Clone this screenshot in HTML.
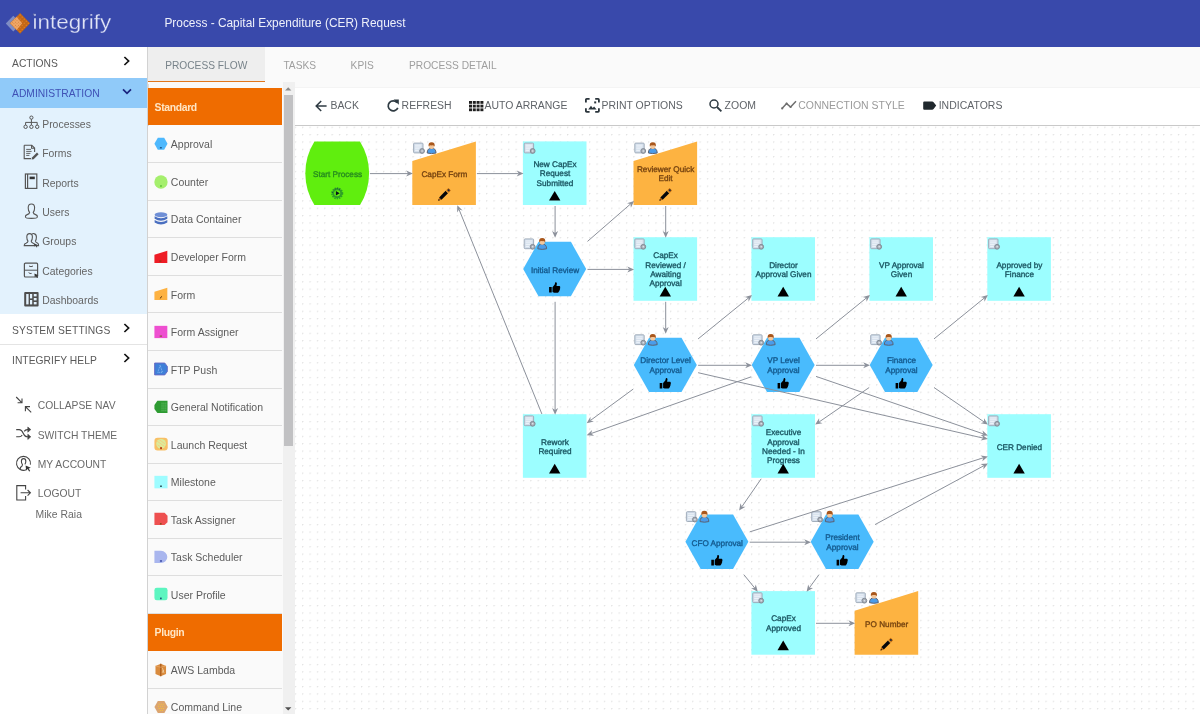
<!DOCTYPE html>
<html><head><meta charset="utf-8"><title>Process - Capital Expenditure (CER) Request</title>
<style>
*{box-sizing:border-box;margin:0;padding:0}
html,body{width:1200px;height:714px;overflow:hidden;background:#fafafa;font-family:"Liberation Sans",sans-serif}
#root{position:relative;width:1200px;height:714px;overflow:hidden;transform:translateZ(0);will-change:transform}
.a{position:absolute}
.t{position:absolute;white-space:nowrap;font-size:10.3px;line-height:12px;color:#616161}
#hdr{left:0;top:0;width:1200px;height:47px;background:#3949ab}
#nav{left:0;top:47px;width:147.5px;height:667px;background:#fff;border-right:1px solid #d2d2d2}
#adm{left:0;top:78px;width:147px;height:29.5px;background:#90caf9}
#sub{left:0;top:107.5px;width:147px;height:206.5px;background:#e3f2fd}
.sep{position:absolute;left:0;width:147px;height:1px;background:#e4e4e4}
.navt{color:#5a5a5a;letter-spacing:.02px}
#tabact{left:148px;top:47px;width:117px;height:35px;background:#eeeeee;border-bottom:1.9px solid #e2771c}
.tab{color:#9e9e9e;font-size:10.2px}
#pal{left:147.5px;top:84px;width:136px;height:630px;background:#fafafa;border-left:1px solid #dcdcdc}
.ph{position:absolute;left:148px;width:134px;height:36.9px;background:#ef6c00}
.pht{color:#ffe6c4;font-weight:bold;font-size:10.4px;letter-spacing:-.35px}
.pr{position:absolute;left:148px;width:134.2px;height:37.53px;border-bottom:1px solid #dedede;background:#fafafa}
.pit{font-size:10.5px;color:#5c5c5c}
.pi{position:absolute;left:154.3px}
#sb{left:282.6px;top:82px;width:12px;height:632px;background:#f0f0f0}
#sbt{left:284.1px;top:95px;width:8.8px;height:351.2px;background:#c1c1c3}
#tb{left:294.6px;top:86.8px;width:906px;height:39px;background:#fff;border-bottom:1.8px solid #c9c9c9;border-top:1px solid #f4f4f4}
#cv{left:294.6px;top:125.8px;width:906px;height:589px;background-color:#fff;
 background-image:radial-gradient(circle at 0.6px 0.6px,#e0e0e0 0.58px,rgba(255,255,255,0) 0.95px);
 background-size:7.372px 7.372px;background-position:-0.25px 0.7px}
.tbt{color:#5f6368;font-size:10.45px;letter-spacing:.03px}
.nl{font-family:"Liberation Sans",sans-serif;font-size:8.2px;text-anchor:middle;stroke-width:.34px;text-rendering:geometricPrecision}
svg{position:absolute;overflow:visible}
</style></head><body><div id="root">
<svg width="0" height="0" style="left:0;top:0"><defs>
<g id="pencil"><polygon points="0.3,12.3 1.22,8.98 3.62,11.38" fill="#b9640f"/><polygon points="0.3,12.3 0.75,10.6 2.0,11.85" fill="#0a0c10"/><polygon points="1.22,8.98 7.73,2.47 10.13,4.87 3.62,11.38" fill="#05070b"/><polygon points="7.73,2.47 8.57,1.63 10.97,4.03 10.13,4.87" fill="#d08a30"/><polygon points="8.57,1.63 10.5,-0.3 12.9,2.1 10.97,4.03" fill="#b9640f"/><circle cx="10.7" cy="1.9" r="1" fill="#1f2a3a"/></g>
<g id="thumb"><path d="M0,5 h2.6 v5.6 h-2.6 z M3.4,5.2 L5.6,2.6 L6.2,0.3 Q7.6,-0.1 7.8,1.4 L7.4,3.9 H10.4 Q11.4,4.2 11,5.2 Q11.5,6 10.8,6.7 Q11.2,7.6 10.4,8.2 Q10.6,9.1 9.8,9.6 Q9.7,10.6 8.6,10.7 H5 L3.4,10 Z" fill="#000"/></g>
<g id="play"><circle cx="6.5" cy="6.5" r="5.3" fill="none" stroke="#2f9f28" stroke-width="1.5" stroke-dasharray="1.5 0.9"/><circle cx="6.5" cy="6.5" r="4" fill="none" stroke="#2f9f28" stroke-width="1.9"/><path d="M5.2,4.3 L9,6.5 L5.2,8.7 Z" fill="#06141c"/><circle cx="1.7" cy="5.6" r="0.5" fill="#173f4a"/><circle cx="4.5" cy="2.3" r="0.5" fill="#173f4a"/><circle cx="6.5" cy="1.6" r="0.5" fill="#173f4a"/><circle cx="8.6" cy="2.4" r="0.5" fill="#173f4a"/></g>
<g id="doc"><rect x="0.5" y="0.7" width="9.4" height="9.8" rx="0.9" fill="#d3deeb" stroke="#9ba7b6" stroke-width="0.9"/><path d="M2,2.8 H8.2 M2,4.6 H8.2 M2,6.4 H6.4 M2,8.2 H5.6" stroke="#f1f5fa" stroke-width="0.9"/><circle cx="9" cy="8.6" r="2.4" fill="#a9b0ba" stroke="#7d838d" stroke-width="0.9"/><circle cx="9" cy="8.6" r="0.8" fill="#e4e8ee"/></g>
<g id="person"><path d="M0.5,11 Q0.5,6.2 4.9,6.2 Q9.3,6.2 9.3,11 Q4.9,12.2 0.5,11 Z" fill="#4a9cea" stroke="#5a6273" stroke-width="1"/><circle cx="4.9" cy="4.3" r="2.6" fill="#f3c79c"/><path d="M1.9,4.6 Q1.2,0.2 4.9,0.2 Q8.6,0.2 7.9,4.6 Q6.8,3 4.9,3.4 Q3,3 1.9,4.6 Z" fill="#a9571c"/></g>
<!-- palette icons (14x14 viewbox) -->
<g id="pi1"><polygon points="0.4,6.4 3.6,0.8 9.6,0.8 12.8,6.4 9.6,12 3.6,12" fill="#4db8fd"/><rect x="5.6" y="9.6" width="1.8" height="1.2" fill="#1d4a78"/></g>
<g id="pi2"><circle cx="6.6" cy="6.6" r="6.3" fill="#a5ef6d"/><rect x="5.8" y="9.8" width="1.6" height="1.2" fill="#45b52a"/></g>
<g id="pi3"><ellipse cx="6.6" cy="2.6" rx="6" ry="2.3" fill="#6f8fd6"/><path d="M0.6,4 Q6.6,7.6 12.6,4 V6.4 Q6.6,10 0.6,6.4 Z M0.6,7.6 Q6.6,11.2 12.6,7.6 V10 Q6.6,13.6 0.6,10 Z" fill="#4a6fc0"/></g>
<g id="pi4"><polygon points="0.4,4.4 12.6,0.8 12.6,12.4 0.4,12.4" fill="#ee1c25"/><rect x="5" y="10" width="2" height="1" fill="#8a3a10"/></g>
<g id="pi5"><polygon points="0.4,4.6 12.6,0.8 12.6,12.4 0.4,12.4" fill="#fdb242"/><path d="M5.6,10.8 l2,-2" stroke="#4a2a08" stroke-width="0.9"/></g>
<g id="pi6"><rect x="0.4" y="0.8" width="12.2" height="11.6" fill="#ee4fd0"/><rect x="5.4" y="10" width="2.2" height="1" fill="#7a5a20"/></g>
<g id="pi7"><polygon points="0.6,1 10.2,1 12.6,4.2 12.6,9 10.2,12.2 0.6,12.2" fill="#3f80d8" stroke="#6668c4" stroke-width="0.9"/><path d="M5.8,3 L3.6,9.8 H8 L5.8,3" fill="none" stroke="#8fc0f2" stroke-width="0.8" stroke-dasharray="1 0.7"/></g>
<g id="pi8"><polygon points="3.2,0.8 12.8,0.8 12.8,12.4 3.2,12.4 0.4,8.4 0.4,4.8" fill="#2e9b32"/><path d="M7.6,2.6 V10.8 M9.4,2.6 V10.8 M11.2,2.6 V10.8" stroke="#86d48a" stroke-width="0.8" stroke-dasharray="0.8 1"/></g>
<g id="pi9"><rect x="0.4" y="0.8" width="12.6" height="12" rx="3" fill="#f8c066"/><circle cx="6.7" cy="6.4" r="4.6" fill="#d9ec9c"/><path d="M3,4 l7,5 M3.4,7.4 l5.2,3.4 M5,2.6 l5.4,3.8" stroke="#f5cd7e" stroke-width="0.9"/><rect x="5.8" y="9.6" width="1.7" height="1.9" fill="#b23c12"/></g>
<g id="pi10"><rect x="0.4" y="0.8" width="12.4" height="11.8" fill="#9efcff"/><rect x="5.8" y="10" width="1.6" height="1.2" fill="#102a30"/></g>
<g id="pi11"><path d="M0.4,0.8 H10 L12.8,3.6 V9.6 L10,12.4 H0.4 Z" fill="#ee5050"/><rect x="5.6" y="10.6" width="1.6" height="1.2" fill="#7a4a10"/></g>
<g id="pi12"><path d="M0.4,0.8 H6.6 A6,5.8 0 0 1 6.6,12.4 H0.4 Z" fill="#a9b6ee"/><rect x="5.6" y="9.8" width="2" height="1.2" fill="#2a3a9a"/></g>
<g id="pi13"><rect x="0.4" y="0.8" width="12.4" height="11.8" rx="2.2" fill="#5cf5c0"/><rect x="5.8" y="10" width="1.4" height="1.6" fill="#16406e"/></g>
<g id="pi15"><path d="M1.4,2.8 L6.4,0.6 L11.4,2.8 V10.4 L6.4,12.6 L1.4,10.4 Z" fill="#d98b3e"/><path d="M6.4,0.6 V12.6" stroke="#a85a1a" stroke-width="1.1"/><path d="M1.4,2.8 L6.4,4 L11.4,2.8" fill="none" stroke="#eab074" stroke-width="0.6"/><path d="M8,4.8 l1.4,4.6 M9,6.6 l-1.2,2.6" stroke="#f6d6a8" stroke-width="0.7"/></g>
<g id="pi16"><polygon points="0.4,6.6 3.6,0.9 9.8,0.9 13,6.6 9.8,12.3 3.6,12.3" fill="#dba470"/><path d="M4.4,4 h5 M3.6,6 h6.4 M4.4,8 h5 M5.4,10 h3" stroke="#f7c338" stroke-width="1" stroke-dasharray="1 1"/></g>
</defs></svg>

<div class="a" id="hdr"></div>
<!-- logo -->
<svg style="left:0;top:0" width="150" height="47" viewBox="0 0 150 47">
 <defs>
  <pattern id="lgd" width="2.9" height="2.9" patternUnits="userSpaceOnUse" patternTransform="translate(20.1,13) rotate(45)"><rect x="0.9" y="0.9" width="1.1" height="1.1" fill="#f2831f"/></pattern>
  <pattern id="lgp" width="2.2" height="2.2" patternUnits="userSpaceOnUse" patternTransform="translate(20.1,13) rotate(45)"><rect x="0.5" y="0.5" width="1.0" height="1.0" fill="#cf7a30"/></pattern>
 </defs>
 <polygon points="5.8,23.5 13.3,15.8 20.8,23.5 13.3,31.6" fill="#8493c6" opacity=".92"/>
 <polygon points="9.9,23.3 20.1,12.9 30.1,23.3 20.1,33.7" fill="#bf6617"/>
 <polygon points="9.9,23.3 20.1,12.9 30.1,23.3 20.1,33.7" fill="url(#lgd)"/>
 <polygon points="10.2,23.3 16.6,16.8 22.2,23.3 16.6,30" fill="#f0a767"/>
 <polygon points="10.2,23.3 16.6,16.8 22.2,23.3 16.6,30" fill="url(#lgp)" opacity=".75"/>
 <polygon points="33,13.8 35.8,13.8 34.4,16.4" fill="#8f93a0"/>
 <text transform="translate(32.6,28.5) scale(1.095,1)" x="0" y="0" font-family="Liberation Sans, sans-serif" font-size="20.5" fill="#e1e5f6" stroke="#3949ab" stroke-width="0.25" letter-spacing="0">integrify</text>
</svg>
<div class="t" style="left:164.4px;top:15.6px;font-size:11.9px;line-height:14px;color:#eef0fa">Process - Capital Expenditure (CER) Request</div>

<div class="a" id="nav"></div>
<div class="a" id="adm"></div>
<div class="a" id="sub"></div>
<div class="sep" style="top:344px"></div>
<div class="t navt" style="left:12px;top:57.6px;">ACTIONS</div>
<div class="t navt" style="left:12px;top:88.1px;color:#3f51b5">ADMINISTRATION</div>
<div class="t navt" style="left:42.2px;top:118.6px;font-size:10.4px;color:#646464">Processes</div>
<svg style="left:22.6px;top:115.0px" width="17" height="17" viewBox="0 0 17 17"><use href="#ni0"/></svg>
<div class="t navt" style="left:42.2px;top:148.1px;font-size:10.4px;color:#646464">Forms</div>
<svg style="left:22.6px;top:143.7px" width="17" height="17" viewBox="0 0 17 17"><use href="#ni1"/></svg>
<div class="t navt" style="left:42.2px;top:177.5px;font-size:10.4px;color:#646464">Reports</div>
<svg style="left:22.6px;top:173.1px" width="17" height="17" viewBox="0 0 17 17"><use href="#ni2"/></svg>
<div class="t navt" style="left:42.2px;top:207.0px;font-size:10.4px;color:#646464">Users</div>
<svg style="left:22.6px;top:202.6px" width="17" height="17" viewBox="0 0 17 17"><use href="#ni3"/></svg>
<div class="t navt" style="left:42.2px;top:236.4px;font-size:10.4px;color:#646464">Groups</div>
<svg style="left:22.6px;top:232.0px" width="17" height="17" viewBox="0 0 17 17"><use href="#ni4"/></svg>
<div class="t navt" style="left:42.2px;top:265.9px;font-size:10.4px;color:#646464">Categories</div>
<svg style="left:22.6px;top:261.5px" width="17" height="17" viewBox="0 0 17 17"><use href="#ni5"/></svg>
<div class="t navt" style="left:42.2px;top:295.4px;font-size:10.4px;color:#646464">Dashboards</div>
<svg style="left:22.6px;top:291.0px" width="17" height="17" viewBox="0 0 17 17"><use href="#ni6"/></svg>
<div class="t navt" style="left:12px;top:324.6px;letter-spacing:.12px">SYSTEM SETTINGS</div>
<div class="t navt" style="left:12px;top:354.8px;">INTEGRIFY HELP</div>
<div class="t navt" style="left:37.7px;top:400.1px;color:#6a6a6a">COLLAPSE NAV</div>
<svg style="left:15px;top:395.7px" width="18" height="18" viewBox="0 0 18 18"><use href="#bi0"/></svg>
<div class="t navt" style="left:37.7px;top:429.8px;color:#6a6a6a">SWITCH THEME</div>
<svg style="left:15px;top:425.4px" width="18" height="18" viewBox="0 0 18 18"><use href="#bi1"/></svg>
<div class="t navt" style="left:37.7px;top:459.2px;color:#6a6a6a">MY ACCOUNT</div>
<svg style="left:15px;top:454.8px" width="18" height="18" viewBox="0 0 18 18"><use href="#bi2"/></svg>
<div class="t navt" style="left:37.7px;top:488.3px;color:#6a6a6a">LOGOUT</div>
<svg style="left:15px;top:483.9px" width="18" height="18" viewBox="0 0 18 18"><use href="#bi3"/></svg>
<div class="t navt" style="left:35.6px;top:509.4px;color:#6a6a6a;font-size:10.4px">Mike Raia</div>
<svg style="left:123.4px;top:56.2px" width="8" height="10" viewBox="0 0 8 10"><path d="M1.4,1 L5.6,5 L1.4,9" fill="none" stroke="#111" stroke-width="1.7"/></svg>
<svg style="left:121.8px;top:88.0px" width="10" height="8" viewBox="0 0 10 8"><path d="M1,1.4 L5,5.4 L9,1.4" fill="none" stroke="#1a237e" stroke-width="1.7"/></svg>
<svg style="left:123.4px;top:323.4px" width="8" height="10" viewBox="0 0 8 10"><path d="M1.4,1 L5.6,5 L1.4,9" fill="none" stroke="#111" stroke-width="1.7"/></svg>
<svg style="left:123.4px;top:353.2px" width="8" height="10" viewBox="0 0 8 10"><path d="M1.4,1 L5.6,5 L1.4,9" fill="none" stroke="#111" stroke-width="1.7"/></svg>
<svg width="0" height="0" style="left:0;top:0"><defs>
<g id="ni0" fill="none" stroke="#555" stroke-width="1"><circle cx="8.4" cy="2.6" r="1.6"/><path d="M8.4,4.2 V7.4 M2.6,10 V7.4 H14.2 V10 M8.4,7.4 V10"/><circle cx="2.6" cy="11.8" r="1.7"/><circle cx="8.4" cy="11.8" r="1.7"/><circle cx="14.2" cy="11.8" r="1.7"/></g>
<g id="ni1" fill="none" stroke="#555" stroke-width="1.1"><path d="M1.2,1.2 H8.8 L11.6,4 V8 M8,14.6 H1.2 V1.2 M8.6,1.4 V4.2 H11.4"/><path d="M3.2,5.4 H8 M3.2,7.4 H8.6 M3.2,9.4 H7.4 M3.2,11.4 H6.4" stroke-width=".9"/><path d="M9,13.6 L14,8.6 L15.6,10.2 L10.6,15.2 L8.6,15.6 Z" fill="#555" stroke="none"/></g>
<g id="ni2" fill="none" stroke="#555" stroke-width="1.2"><rect x="2.4" y="1" width="11.4" height="14.4"/><path d="M4.6,1 V15.4"/><rect x="6.6" y="3.6" width="5.2" height="2.6" fill="#333" stroke="none"/></g>
<g id="ni3" fill="none" stroke="#555" stroke-width="1.1"><path d="M8.4,1 Q11.6,1 11.6,4.8 Q11.6,8 10.2,9.4 Q10.4,11 12.6,11.6 Q14.6,12.2 14.4,14 Q14.2,15.4 8.4,15.4 Q2.6,15.4 2.4,14 Q2.2,12.2 4.2,11.6 Q6.4,11 6.6,9.4 Q5.2,8 5.2,4.8 Q5.2,1 8.4,1 Z"/></g>
<g id="ni4" fill="none" stroke="#555" stroke-width="1.1"><path d="M6.6,1.6 Q9.4,1.6 9.4,5 Q9.4,7.8 8.2,9.2 Q8.4,10.6 10.2,11.2 Q12,11.8 11.8,13.6 H1.2 Q1,11.8 3,11.2 Q4.8,10.6 5,9.2 Q3.8,7.8 3.8,5 Q3.8,1.6 6.6,1.6 Z"/><path d="M9,2 Q10,1.4 11,1.6 Q13.4,2 13.4,5 Q13.4,7.8 12.4,9 Q12.6,10.4 14.4,11 Q15.8,11.6 15.6,13.6 H12.6"/><path d="M11.4,11.4 l3.4,1.6 l-1.4,0.4 l1,1.6 l-0.8,0.4 l-1,-1.6 l-1,1 Z" fill="#444" stroke="none"/></g>
<g id="ni5" fill="none" stroke="#555" stroke-width="1.2"><rect x="1.4" y="1.2" width="13.2" height="13.8" rx="1"/><path d="M1.4,8.2 H14.6 M6,4 Q8,5.4 10,4 M5.6,10.6 Q7,12 8.6,11.4" stroke-width="1"/><path d="M11.4,11.4 l4,1.8 l-1.6,0.5 l1.2,1.8 l-0.9,0.5 l-1.1,-1.8 l-1.2,1.1 Z" fill="#333" stroke="none"/></g>
<g id="ni6"><rect x="1.2" y="1" width="14.4" height="14.4" rx="1" fill="#4e4e4e"/><rect x="3.2" y="3" width="2.4" height="10.4" fill="#e3f2fd"/><rect x="7" y="3" width="2.2" height="4.4" fill="#e3f2fd"/><rect x="7" y="9" width="2.2" height="4.4" fill="#e3f2fd"/><rect x="10.8" y="3" width="2.8" height="2.4" fill="#e3f2fd"/><rect x="10.8" y="7" width="2.8" height="2.4" fill="#e3f2fd"/><rect x="10.8" y="11" width="2.8" height="2.4" fill="#e3f2fd"/></g>
<g id="bi0" fill="none" stroke="#444" stroke-width="1.1"><path d="M1.2,1 L6.8,6.6 M2.6,6.8 H7 V2.4 M16.2,16.4 L10.6,10.8 M15,10.6 H10.4 V15.2"/></g>
<g id="bi1" fill="none" stroke="#444" stroke-width="1.1"><path d="M1.2,4.6 H4.2 Q6.6,4.6 8.2,8.2 Q9.8,11.8 12.2,11.8 H13.4 M1.2,11.8 H4.2 Q6.2,11.8 7.2,10 M9.2,6.4 Q10.4,4.6 12.2,4.6 H13.4"/><path d="M12.8,2 L15.8,4.6 L12.8,7.2 Z M12.8,9.2 L15.8,11.8 L12.8,14.4 Z" fill="#444" stroke-width=".6"/></g>
<g id="bi2" fill="none" stroke="#444" stroke-width="1.1"><path d="M11.2,14.8 A7,7 0 1 1 15.4,9.6"/><path d="M8.6,3.6 Q10.8,3.6 10.8,6.2 Q10.8,8.4 9.8,9.4 M5.2,14.4 Q5,12.4 6.4,11.6 Q7.4,11.2 7.4,9.4 Q6.4,8.4 6.4,6.2 Q6.4,3.6 8.6,3.6"/><path d="M10.6,10.6 l5.2,2.2 l-2.1,0.7 l1.5,2.4 l-1.1,0.6 l-1.4,-2.4 l-1.6,1.4 Z" fill="#333" stroke="none"/></g>
<g id="bi3" fill="none" stroke="#444" stroke-width="1.1"><path d="M10.6,5.6 V1.6 H1.8 V16 H10.6 V12"/><path d="M5.6,8.8 H15.4 M12.6,6 L15.4,8.8 L12.6,11.6"/></g>
<!-- toolbar icons -->
<g id="tb0" fill="none" stroke="#2f3b43" stroke-width="1.5"><path d="M11.6,6 H1.4 M6.2,1 L1.2,6 L6.2,11"/></g>
<g id="tb1" fill="none" stroke="#2f3b43" stroke-width="1.7"><path d="M10.6,3.2 A5,5 0 1 0 11.4,8.4"/><path d="M7.2,0.2 H12.4 V5.4 Z" fill="#2f3b43" stroke="none"/></g>
<g id="tb2" fill="#1f1f1f"><rect x="0" y="0" width="3" height="2.8"/><rect x="3.8" y="0" width="3" height="2.8"/><rect x="7.6" y="0" width="3" height="2.8"/><rect x="11.4" y="0" width="3" height="2.8"/><rect x="0" y="3.7" width="3" height="2.8"/><rect x="3.8" y="3.7" width="3" height="2.8"/><rect x="7.6" y="3.7" width="3" height="2.8"/><rect x="11.4" y="3.7" width="3" height="2.8"/><rect x="0" y="7.4" width="3" height="2.8"/><rect x="3.8" y="7.4" width="3" height="2.8"/><rect x="7.6" y="7.4" width="3" height="2.8"/><rect x="11.4" y="7.4" width="3" height="2.8"/></g>
<g id="tb3" fill="none" stroke="#2a343b" stroke-width="1.8"><path d="M0.9,4.6 V1.7 Q0.9,0.9 1.7,0.9 H4.6 M10.2,0.9 H13.1 Q13.9,0.9 13.9,1.7 V4.6 M13.9,10.2 V13.1 Q13.9,13.9 13.1,13.9 H10.2 M4.6,13.9 H1.7 Q0.9,13.9 0.9,13.1 V10.2"/><path d="M3.2,11.6 L6,7.8 L7.7,9.9 L9.1,8.6 L11.6,11.6 Z" fill="#2a343b" stroke="none"/><rect x="9.2" y="3.4" width="2" height="2" fill="#2a343b" stroke="none"/></g>
<g id="tb4" fill="none" stroke="#2f3b43" stroke-width="1.5"><circle cx="5" cy="5" r="4"/><path d="M8,8 L12.4,12.4" stroke-width="1.8"/></g>
<g id="tb5" fill="none" stroke="#6e6e6e" stroke-width="1.5"><path d="M1,9.4 L5.6,4.6 L9.6,8 L15,2.2"/><circle cx="1.2" cy="9.4" r="1.1" fill="#6e6e6e" stroke="none"/><circle cx="5.6" cy="4.6" r="1.1" fill="#6e6e6e" stroke="none"/><circle cx="9.6" cy="8" r="1.1" fill="#6e6e6e" stroke="none"/></g>
<g id="tb6"><path d="M1.2,0.4 H9.2 Q10,0.4 10.6,1.2 L13.2,4.6 L10.6,8 Q10,8.8 9.2,8.8 H1.2 Q0.2,8.8 0.2,7.8 V1.4 Q0.2,0.4 1.2,0.4 Z" fill="#20282d"/></g>
</defs></svg>

<!-- tabs -->
<div class="a" id="tabact"></div>
<div class="t tab" style="left:165.2px;top:60px;color:#78838a">PROCESS FLOW</div>
<div class="t tab" style="left:283.4px;top:60px">TASKS</div>
<div class="t tab" style="left:350.6px;top:60px">KPIS</div>
<div class="t tab" style="left:409px;top:60px">PROCESS DETAIL</div>

<!-- palette -->
<div class="a" id="pal"></div>
<div class="ph" style="top:88.20px"></div>
<div class="t pht" style="left:154.6px;top:101.80px">Standard</div>
<div class="pr" style="top:125.83px"></div>
<div class="t pit" style="left:170.8px;top:138.43px">Approval</div>
<svg class="pi" style="top:137.13px" width="14.8" height="14.8" viewBox="0 0 14 14"><use href="#pi1"/></svg>
<div class="pr" style="top:163.36px"></div>
<div class="t pit" style="left:170.8px;top:175.96px">Counter</div>
<svg class="pi" style="top:174.66px" width="14.8" height="14.8" viewBox="0 0 14 14"><use href="#pi2"/></svg>
<div class="pr" style="top:200.89px"></div>
<div class="t pit" style="left:170.8px;top:213.49px">Data Container</div>
<svg class="pi" style="top:212.19px" width="14.8" height="14.8" viewBox="0 0 14 14"><use href="#pi3"/></svg>
<div class="pr" style="top:238.42px"></div>
<div class="t pit" style="left:170.8px;top:251.02px">Developer Form</div>
<svg class="pi" style="top:249.72px" width="14.8" height="14.8" viewBox="0 0 14 14"><use href="#pi4"/></svg>
<div class="pr" style="top:275.95px"></div>
<div class="t pit" style="left:170.8px;top:288.55px">Form</div>
<svg class="pi" style="top:287.25px" width="14.8" height="14.8" viewBox="0 0 14 14"><use href="#pi5"/></svg>
<div class="pr" style="top:313.48px"></div>
<div class="t pit" style="left:170.8px;top:326.08px">Form Assigner</div>
<svg class="pi" style="top:324.78px" width="14.8" height="14.8" viewBox="0 0 14 14"><use href="#pi6"/></svg>
<div class="pr" style="top:351.01px"></div>
<div class="t pit" style="left:170.8px;top:363.61px">FTP Push</div>
<svg class="pi" style="top:362.31px" width="14.8" height="14.8" viewBox="0 0 14 14"><use href="#pi7"/></svg>
<div class="pr" style="top:388.54px"></div>
<div class="t pit" style="left:170.8px;top:401.14px">General Notification</div>
<svg class="pi" style="top:399.84px" width="14.8" height="14.8" viewBox="0 0 14 14"><use href="#pi8"/></svg>
<div class="pr" style="top:426.07px"></div>
<div class="t pit" style="left:170.8px;top:438.67px">Launch Request</div>
<svg class="pi" style="top:437.37px" width="14.8" height="14.8" viewBox="0 0 14 14"><use href="#pi9"/></svg>
<div class="pr" style="top:463.60px"></div>
<div class="t pit" style="left:170.8px;top:476.20px">Milestone</div>
<svg class="pi" style="top:474.90px" width="14.8" height="14.8" viewBox="0 0 14 14"><use href="#pi10"/></svg>
<div class="pr" style="top:501.13px"></div>
<div class="t pit" style="left:170.8px;top:513.73px">Task Assigner</div>
<svg class="pi" style="top:512.43px" width="14.8" height="14.8" viewBox="0 0 14 14"><use href="#pi11"/></svg>
<div class="pr" style="top:538.66px"></div>
<div class="t pit" style="left:170.8px;top:551.26px">Task Scheduler</div>
<svg class="pi" style="top:549.96px" width="14.8" height="14.8" viewBox="0 0 14 14"><use href="#pi12"/></svg>
<div class="pr" style="top:576.19px"></div>
<div class="t pit" style="left:170.8px;top:588.79px">User Profile</div>
<svg class="pi" style="top:587.49px" width="14.8" height="14.8" viewBox="0 0 14 14"><use href="#pi13"/></svg>
<div class="ph" style="top:613.62px"></div>
<div class="t pht" style="left:154.6px;top:627.22px">Plugin</div>
<div class="pr" style="top:651.25px"></div>
<div class="t pit" style="left:170.8px;top:663.85px">AWS Lambda</div>
<svg class="pi" style="top:662.55px" width="14.8" height="14.8" viewBox="0 0 14 14"><use href="#pi15"/></svg>
<div class="pr" style="top:688.78px"></div>
<div class="t pit" style="left:170.8px;top:701.38px">Command Line</div>
<svg class="pi" style="top:700.08px" width="14.8" height="14.8" viewBox="0 0 14 14"><use href="#pi16"/></svg>
<div class="a" id="sb"></div>
<div class="a" id="sbt"></div>
<svg style="left:285.4px;top:87.4px" width="7" height="4" viewBox="0 0 7 4"><path d="M0,3.6 L3.2,0.2 L6.4,3.6 Z" fill="#8a8a8a"/></svg>
<svg style="left:285.4px;top:706.6px" width="7" height="4" viewBox="0 0 7 4"><path d="M0,0.2 L3.2,3.6 L6.4,0.2 Z" fill="#505050"/></svg>

<!-- toolbar -->
<div class="a" id="tb"></div>
<svg style="left:315.4px;top:100px" width="13" height="12" viewBox="0 0 13 12"><use href="#tb0"/></svg>
<div class="t tbt" style="left:330.4px;top:100.4px">BACK</div>
<svg style="left:386.2px;top:98.0px" width="13" height="14" viewBox="0 0 13 14"><use href="#tb1" transform="translate(0.4,1.4)"/></svg>
<div class="t tbt" style="left:401.6px;top:100.4px">REFRESH</div>
<svg style="left:469px;top:100.6px" width="15" height="11" viewBox="0 0 15 11"><use href="#tb2"/></svg>
<div class="t tbt" style="left:484.4px;top:100.4px">AUTO ARRANGE</div>
<svg style="left:585px;top:98.4px" width="15" height="15" viewBox="0 0 15 15"><use href="#tb3"/></svg>
<div class="t tbt" style="left:601.4px;top:100.4px">PRINT OPTIONS</div>
<svg style="left:709px;top:99px" width="14" height="14" viewBox="0 0 14 14"><use href="#tb4"/></svg>
<div class="t tbt" style="left:724.6px;top:100.4px">ZOOM</div>
<svg style="left:781px;top:99.4px" width="17" height="12" viewBox="0 0 17 12"><use href="#tb5"/></svg>
<div class="t tbt" style="left:798.2px;top:100.4px;color:#9a9a9a">CONNECTION STYLE</div>
<svg style="left:922.8px;top:100.8px" width="14" height="10" viewBox="0 0 14 10"><use href="#tb6"/></svg>
<div class="t tbt" style="left:938.7px;top:100.4px">INDICATORS</div>

<!-- canvas -->
<div class="a" id="cv"></div>
<svg style="left:0;top:0" width="1200" height="714" viewBox="0 0 1200 714">
<path d="M314.4,141.4 L360.0,141.4 A60.3,60.3 0 0 1 360.0,205.0 L314.4,205.0 A60.3,60.3 0 0 1 314.4,141.4 Z" fill="#60ee0e"/>
<polygon points="412.3,161.1 475.9,141.4 475.9,205.0 412.3,205.0" fill="#fdb341"/>
<rect x="522.9" y="141.4" width="63.6" height="63.6" fill="#9cfeff"/>
<polygon points="633.5,161.1 697.1,141.4 697.1,205.0 633.5,205.0" fill="#fdb341"/>
<polygon points="523.2,269.0 538.5,241.8 570.9,241.8 586.2,269.0 570.9,296.2 538.5,296.2" fill="#49bbfd"/>
<rect x="633.5" y="237.2" width="63.6" height="63.6" fill="#9cfeff"/>
<rect x="751.4" y="237.2" width="63.6" height="63.6" fill="#9cfeff"/>
<rect x="869.4" y="237.2" width="63.6" height="63.6" fill="#9cfeff"/>
<rect x="987.3" y="237.2" width="63.6" height="63.6" fill="#9cfeff"/>
<polygon points="633.8,364.9 649.1,337.7 681.5,337.7 696.8,364.9 681.5,392.1 649.1,392.1" fill="#49bbfd"/>
<polygon points="751.7,364.9 767.0,337.7 799.4,337.7 814.7,364.9 799.4,392.1 767.0,392.1" fill="#49bbfd"/>
<polygon points="869.7,364.9 885.0,337.7 917.4,337.7 932.7,364.9 917.4,392.1 885.0,392.1" fill="#49bbfd"/>
<rect x="522.9" y="414.2" width="63.6" height="63.6" fill="#9cfeff"/>
<rect x="751.4" y="414.2" width="63.6" height="63.6" fill="#9cfeff"/>
<rect x="987.3" y="414.2" width="63.6" height="63.6" fill="#9cfeff"/>
<polygon points="685.4,541.8 700.7,514.6 733.1,514.6 748.4,541.8 733.1,569.0 700.7,569.0" fill="#49bbfd"/>
<polygon points="810.7,541.8 826.0,514.6 858.4,514.6 873.7,541.8 858.4,569.0 826.0,569.0" fill="#49bbfd"/>
<rect x="751.4" y="591.1" width="63.6" height="63.6" fill="#9cfeff"/>
<polygon points="854.6,610.8 918.2,591.1 918.2,654.7 854.6,654.7" fill="#fdb341"/>
<g transform="translate(330.7,186.8)"><use href="#play"/></g>
<g transform="translate(437.9,188.4)"><use href="#pencil"/></g>
<g transform="translate(413.1,142.4)"><use href="#doc"/></g>
<g transform="translate(426.7,142.0)"><use href="#person"/></g>
<polygon points="549.0,200.6 560.4,200.6 554.7,190.9" fill="#000"/>
<g transform="translate(523.7,142.4)"><use href="#doc"/></g>
<g transform="translate(659.1,188.4)"><use href="#pencil"/></g>
<g transform="translate(634.3,142.4)"><use href="#doc"/></g>
<g transform="translate(647.9,142.0)"><use href="#person"/></g>
<g transform="translate(549.1,282.0)"><use href="#thumb"/></g>
<g transform="translate(523.7,238.2)"><use href="#doc"/></g>
<g transform="translate(537.3,237.8)"><use href="#person"/></g>
<polygon points="659.6,296.4 671.0,296.4 665.3,286.7" fill="#000"/>
<g transform="translate(634.3,238.2)"><use href="#doc"/></g>
<polygon points="777.5,296.4 788.9,296.4 783.2,286.7" fill="#000"/>
<g transform="translate(752.2,238.2)"><use href="#doc"/></g>
<polygon points="895.5,296.4 906.9,296.4 901.2,286.7" fill="#000"/>
<g transform="translate(870.2,238.2)"><use href="#doc"/></g>
<polygon points="1013.4,296.4 1024.8,296.4 1019.1,286.7" fill="#000"/>
<g transform="translate(988.1,238.2)"><use href="#doc"/></g>
<g transform="translate(659.7,377.9)"><use href="#thumb"/></g>
<g transform="translate(634.3,334.1)"><use href="#doc"/></g>
<g transform="translate(647.9,333.7)"><use href="#person"/></g>
<g transform="translate(777.6,377.9)"><use href="#thumb"/></g>
<g transform="translate(752.2,334.1)"><use href="#doc"/></g>
<g transform="translate(765.8,333.7)"><use href="#person"/></g>
<g transform="translate(895.6,377.9)"><use href="#thumb"/></g>
<g transform="translate(870.2,334.1)"><use href="#doc"/></g>
<g transform="translate(883.8,333.7)"><use href="#person"/></g>
<polygon points="549.0,473.4 560.4,473.4 554.7,463.7" fill="#000"/>
<g transform="translate(523.7,415.2)"><use href="#doc"/></g>
<polygon points="777.5,473.4 788.9,473.4 783.2,463.7" fill="#000"/>
<g transform="translate(752.2,415.2)"><use href="#doc"/></g>
<polygon points="1013.4,473.4 1024.8,473.4 1019.1,463.7" fill="#000"/>
<g transform="translate(988.1,415.2)"><use href="#doc"/></g>
<g transform="translate(711.3,554.8)"><use href="#thumb"/></g>
<g transform="translate(685.9,511.0)"><use href="#doc"/></g>
<g transform="translate(699.5,510.6)"><use href="#person"/></g>
<g transform="translate(836.6,554.8)"><use href="#thumb"/></g>
<g transform="translate(811.2,511.0)"><use href="#doc"/></g>
<g transform="translate(824.8,510.6)"><use href="#person"/></g>
<polygon points="777.5,650.3 788.9,650.3 783.2,640.6" fill="#000"/>
<g transform="translate(752.2,592.1)"><use href="#doc"/></g>
<g transform="translate(880.2,638.1)"><use href="#pencil"/></g>
<g transform="translate(855.4,592.1)"><use href="#doc"/></g>
<g transform="translate(869.0,591.7)"><use href="#person"/></g>
<path d="M370.0,173.6 L408.1,173.6" stroke="#8c919b" stroke-width="1" fill="none"/>
<polygon points="412.9,173.6 406.1,176.6 408.1,173.6 406.1,170.6" fill="#8c919b"/>
<path d="M476.9,173.6 L518.7,173.6" stroke="#8c919b" stroke-width="1" fill="none"/>
<polygon points="523.5,173.6 516.7,176.6 518.7,173.6 516.7,170.6" fill="#8c919b"/>
<path d="M555.1,206.0 L555.1,233.0" stroke="#8c919b" stroke-width="1" fill="none"/>
<polygon points="555.1,237.8 552.1,231.0 555.1,233.0 558.1,231.0" fill="#8c919b"/>
<path d="M587.5,241.4 L630.4,204.1" stroke="#8c919b" stroke-width="1" fill="none"/>
<polygon points="634.1,201.0 630.9,207.7 630.4,204.1 627.0,203.2" fill="#8c919b"/>
<path d="M665.7,206.0 L665.7,233.0" stroke="#8c919b" stroke-width="1" fill="none"/>
<polygon points="665.7,237.8 662.7,231.0 665.7,233.0 668.7,231.0" fill="#8c919b"/>
<path d="M587.5,269.4 L629.3,269.4" stroke="#8c919b" stroke-width="1" fill="none"/>
<polygon points="634.1,269.4 627.3,272.4 629.3,269.4 627.3,266.4" fill="#8c919b"/>
<path d="M555.1,301.8 L555.1,410.0" stroke="#8c919b" stroke-width="1" fill="none"/>
<polygon points="555.1,414.8 552.1,408.0 555.1,410.0 558.1,408.0" fill="#8c919b"/>
<path d="M541.9,414.0 L459.1,209.6" stroke="#8c919b" stroke-width="1" fill="none"/>
<polygon points="457.3,205.2 462.6,210.4 459.1,209.6 457.1,212.6" fill="#8c919b"/>
<path d="M665.7,301.8 L665.7,328.9" stroke="#8c919b" stroke-width="1" fill="none"/>
<polygon points="665.7,333.7 662.7,326.9 665.7,328.9 668.7,326.9" fill="#8c919b"/>
<path d="M698.1,338.9 L748.3,298.1" stroke="#8c919b" stroke-width="1" fill="none"/>
<polygon points="752.0,295.1 748.6,301.7 748.3,298.1 744.8,297.1" fill="#8c919b"/>
<path d="M698.1,365.3 L747.2,365.3" stroke="#8c919b" stroke-width="1" fill="none"/>
<polygon points="752.0,365.3 745.2,368.3 747.2,365.3 745.2,362.3" fill="#8c919b"/>
<path d="M633.3,389.0 L590.5,420.4" stroke="#8c919b" stroke-width="1" fill="none"/>
<polygon points="586.7,423.2 590.4,416.8 590.5,420.4 593.9,421.6" fill="#8c919b"/>
<path d="M698.1,372.7 L983.2,438.1" stroke="#8c919b" stroke-width="1" fill="none"/>
<polygon points="987.9,439.1 980.6,440.5 983.2,438.1 982.0,434.7" fill="#8c919b"/>
<path d="M816.0,338.9 L866.2,298.1" stroke="#8c919b" stroke-width="1" fill="none"/>
<polygon points="870.0,295.1 866.6,301.7 866.2,298.1 862.8,297.1" fill="#8c919b"/>
<path d="M816.0,365.3 L865.2,365.3" stroke="#8c919b" stroke-width="1" fill="none"/>
<polygon points="870.0,365.3 863.2,368.3 865.2,365.3 863.2,362.3" fill="#8c919b"/>
<path d="M751.2,376.8 L591.2,433.5" stroke="#8c919b" stroke-width="1" fill="none"/>
<polygon points="586.7,435.2 592.1,430.0 591.2,433.5 594.1,435.7" fill="#8c919b"/>
<path d="M816.0,376.4 L983.4,433.9" stroke="#8c919b" stroke-width="1" fill="none"/>
<polygon points="987.9,435.5 980.5,436.1 983.4,433.9 982.5,430.5" fill="#8c919b"/>
<path d="M934.0,338.9 L984.2,298.1" stroke="#8c919b" stroke-width="1" fill="none"/>
<polygon points="987.9,295.1 984.5,301.7 984.2,298.1 980.7,297.1" fill="#8c919b"/>
<path d="M934.0,387.5 L984.0,421.9" stroke="#8c919b" stroke-width="1" fill="none"/>
<polygon points="987.9,424.6 980.6,423.3 984.0,421.9 984.0,418.3" fill="#8c919b"/>
<path d="M869.2,387.5 L819.2,421.9" stroke="#8c919b" stroke-width="1" fill="none"/>
<polygon points="815.2,424.6 819.1,418.3 819.2,421.9 822.5,423.3" fill="#8c919b"/>
<path d="M761.2,478.8 L741.9,506.7" stroke="#8c919b" stroke-width="1" fill="none"/>
<polygon points="739.1,510.6 740.5,503.3 741.9,506.7 745.5,506.7" fill="#8c919b"/>
<path d="M749.7,542.2 L806.2,542.2" stroke="#8c919b" stroke-width="1" fill="none"/>
<polygon points="811.0,542.2 804.2,545.2 806.2,542.2 804.2,539.2" fill="#8c919b"/>
<path d="M749.7,531.9 L983.3,457.8" stroke="#8c919b" stroke-width="1" fill="none"/>
<polygon points="987.9,456.4 982.3,461.3 983.3,457.8 980.5,455.6" fill="#8c919b"/>
<path d="M875.0,524.6 L983.7,465.8" stroke="#8c919b" stroke-width="1" fill="none"/>
<polygon points="987.9,463.5 983.4,469.4 983.7,465.8 980.5,464.1" fill="#8c919b"/>
<path d="M743.8,574.6 L754.7,588.0" stroke="#8c919b" stroke-width="1" fill="none"/>
<polygon points="757.8,591.7 751.1,588.3 754.7,588.0 755.8,584.5" fill="#8c919b"/>
<path d="M819.0,574.6 L809.4,587.8" stroke="#8c919b" stroke-width="1" fill="none"/>
<polygon points="806.6,591.7 808.2,584.4 809.4,587.8 813.0,588.0" fill="#8c919b"/>
<path d="M816.0,623.3 L850.4,623.3" stroke="#8c919b" stroke-width="1" fill="none"/>
<polygon points="855.2,623.3 848.4,626.3 850.4,623.3 848.4,620.3" fill="#8c919b"/>
<text class="nl" x="337.5" y="176.90" fill="#268c1e" stroke="#268c1e">Start Process</text>
<text class="nl" x="444.4" y="176.90" fill="#774410" stroke="#774410">CapEx Form</text>
<text class="nl" x="555.0" y="167.05" fill="#1b5763" stroke="#1b5763">New CapEx</text>
<text class="nl" x="555.0" y="176.45" fill="#1b5763" stroke="#1b5763">Request</text>
<text class="nl" x="555.0" y="185.85" fill="#1b5763" stroke="#1b5763">Submitted</text>
<text class="nl" x="665.6" y="171.75" fill="#774410" stroke="#774410">Reviewer Quick</text>
<text class="nl" x="665.6" y="181.15" fill="#774410" stroke="#774410">Edit</text>
<text class="nl" x="555.0" y="272.74" fill="#145a8e" stroke="#145a8e">Initial Review</text>
<text class="nl" x="665.6" y="258.19" fill="#1b5763" stroke="#1b5763">CapEx</text>
<text class="nl" x="665.6" y="267.59" fill="#1b5763" stroke="#1b5763">Reviewed /</text>
<text class="nl" x="665.6" y="276.99" fill="#1b5763" stroke="#1b5763">Awaiting</text>
<text class="nl" x="665.6" y="286.39" fill="#1b5763" stroke="#1b5763">Approval</text>
<text class="nl" x="783.5" y="267.59" fill="#1b5763" stroke="#1b5763">Director</text>
<text class="nl" x="783.5" y="276.99" fill="#1b5763" stroke="#1b5763">Approval Given</text>
<text class="nl" x="901.5" y="267.59" fill="#1b5763" stroke="#1b5763">VP Approval</text>
<text class="nl" x="901.5" y="276.99" fill="#1b5763" stroke="#1b5763">Given</text>
<text class="nl" x="1019.4" y="267.59" fill="#1b5763" stroke="#1b5763">Approved by</text>
<text class="nl" x="1019.4" y="276.99" fill="#1b5763" stroke="#1b5763">Finance</text>
<text class="nl" x="665.6" y="363.42" fill="#145a8e" stroke="#145a8e">Director Level</text>
<text class="nl" x="665.6" y="372.82" fill="#145a8e" stroke="#145a8e">Approval</text>
<text class="nl" x="783.5" y="363.42" fill="#145a8e" stroke="#145a8e">VP Level</text>
<text class="nl" x="783.5" y="372.82" fill="#145a8e" stroke="#145a8e">Approval</text>
<text class="nl" x="901.5" y="363.42" fill="#145a8e" stroke="#145a8e">Finance</text>
<text class="nl" x="901.5" y="372.82" fill="#145a8e" stroke="#145a8e">Approval</text>
<text class="nl" x="555.0" y="444.51" fill="#1b5763" stroke="#1b5763">Rework</text>
<text class="nl" x="555.0" y="453.91" fill="#1b5763" stroke="#1b5763">Required</text>
<text class="nl" x="783.5" y="435.11" fill="#1b5763" stroke="#1b5763">Executive</text>
<text class="nl" x="783.5" y="444.51" fill="#1b5763" stroke="#1b5763">Approval</text>
<text class="nl" x="783.5" y="453.91" fill="#1b5763" stroke="#1b5763">Needed - In</text>
<text class="nl" x="783.5" y="463.31" fill="#1b5763" stroke="#1b5763">Progress</text>
<text class="nl" x="1019.4" y="449.66" fill="#1b5763" stroke="#1b5763">CER Denied</text>
<text class="nl" x="717.2" y="545.50" fill="#145a8e" stroke="#145a8e">CFO Approval</text>
<text class="nl" x="842.5" y="540.35" fill="#145a8e" stroke="#145a8e">President</text>
<text class="nl" x="842.5" y="549.75" fill="#145a8e" stroke="#145a8e">Approval</text>
<text class="nl" x="783.5" y="621.44" fill="#1b5763" stroke="#1b5763">CapEx</text>
<text class="nl" x="783.5" y="630.84" fill="#1b5763" stroke="#1b5763">Approved</text>
<text class="nl" x="886.7" y="626.59" fill="#774410" stroke="#774410">PO Number</text>
</svg>

</div></body></html>
